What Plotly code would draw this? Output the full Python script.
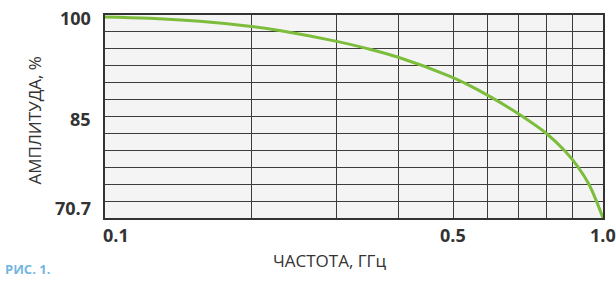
import numpy as np
import plotly.graph_objects as go

# ---- data ----
freq_ghz = [0.1, 0.123, 0.155, 0.197, 0.224, 0.292, 0.335, 0.388, 0.493, 0.528,
            0.597, 0.681, 0.77, 0.836, 0.892, 0.937, 0.97, 1.0]
amplitude_pct = [99.71, 99.52, 99.09, 98.34, 97.76, 96.19, 95.18, 93.9, 91.15, 90.16,
                 88.11, 85.61, 82.9, 80.47, 78.02, 75.57, 73.14, 70.7]

# vertical grid positions (as drawn in the reference, on the log frequency scale)
x_grid = [0.1, 0.197, 0.291, 0.388, 0.5, 0.585, 0.676, 0.77, 0.868, 1.0]
x_tick_vals = [0.1, 0.5, 1.0]
x_tick_text = ["0.1", "0.5", "1.0"]

y_min, y_max = 70.7, 100.0
y_divisions = 12
y_tick_vals = [100.0, 85.35, 70.7]
y_tick_text = ["100", "85", "70.7"]

x_title = "ЧАСТОТА, ГГц"
y_title = "АМПЛИТУДА, %"
caption = "РИС. 1."

# ---- figure ----
grid_color = "#3c3c3c"
text_color = "#333333"
font_family = "Open Sans, DejaVu Sans, sans-serif"

fig = go.Figure()
fig.add_trace(go.Scatter(
    x=freq_ghz, y=amplitude_pct, mode="lines",
    line=dict(color="#7cbd3c", width=3, shape="spline", smoothing=1.0),
    cliponaxis=False, hoverinfo="skip", showlegend=False,
))

fig.update_layout(
    width=616, height=285,
    margin=dict(l=105, r=13, t=15, b=67),
    paper_bgcolor="white", plot_bgcolor="#f4f4f4",
    showlegend=False,
    xaxis=dict(
        type="log", range=[np.log10(0.1), np.log10(1.0)],
        tickvals=x_grid, showticklabels=False, ticks="",
        showgrid=True, gridcolor=grid_color, gridwidth=1,
        showline=True, mirror=True, linecolor="#333333", linewidth=1.5,
        zeroline=False, fixedrange=True,
    ),
    yaxis=dict(
        range=[y_min, y_max],
        tick0=y_min, dtick=(y_max - y_min) / y_divisions,
        showticklabels=False, ticks="",
        showgrid=True, gridcolor=grid_color, gridwidth=1,
        showline=True, mirror=True, linecolor="#333333", linewidth=1.5,
        zeroline=False, fixedrange=True,
    ),
)

annotations = []
# y tick labels
y_shift = {"100": -3, "85": -2, "70.7": 10}
for v, t in zip(y_tick_vals, y_tick_text):
    annotations.append(dict(
        x=0, xref="paper", xanchor="right", xshift=-12,
        y=v, yref="y", yanchor="middle", yshift=y_shift[t],
        text=f"<b>{t}</b>", showarrow=False,
        font=dict(family=font_family, size=18, color=text_color),
    ))
# x tick labels
for v, t in zip(x_tick_vals, x_tick_text):
    first = v == x_tick_vals[0]
    annotations.append(dict(
        x=np.log10(v), xref="x", xanchor=("left" if first else "center"),
        xshift=(-4 if first else 0),
        y=0, yref="paper", yanchor="top", yshift=-3,
        text=f"<b>{t}</b>", showarrow=False,
        font=dict(family=font_family, size=18, color=text_color),
    ))

# titles / caption placed by pixel centre, converted to paper coordinates below
plot_l, plot_r, plot_t, plot_b = 105, 616 - 13, 15, 285 - 67
def px_to_paper(px, py):
    return (px - plot_l) / (plot_r - plot_l), (plot_b - py) / (plot_b - plot_t)

ax, ay = px_to_paper(20, 121)
annotations.append(dict(
    x=ax, xref="paper", y=ay, yref="paper", text=y_title, showarrow=False,
    textangle=-90, font=dict(family=font_family, size=17, color=text_color),
))
ax, ay = px_to_paper(329, 274)
annotations.append(dict(
    x=ax, xref="paper", y=ay, yref="paper", text=x_title, showarrow=False,
    font=dict(family=font_family, size=17, color=text_color),
))
ax, ay = px_to_paper(3, 280)
annotations.append(dict(
    x=ax, xref="paper", y=ay, yref="paper", text=f"<b>{caption}</b>", showarrow=False,
    xanchor="left", font=dict(family=font_family, size=13, color="#74b6e0"),
))

fig.update_layout(annotations=annotations)
fig.write_html("out.html", config={"displayModeBar": False},
               post_script="document.body.style.margin='0px';")
